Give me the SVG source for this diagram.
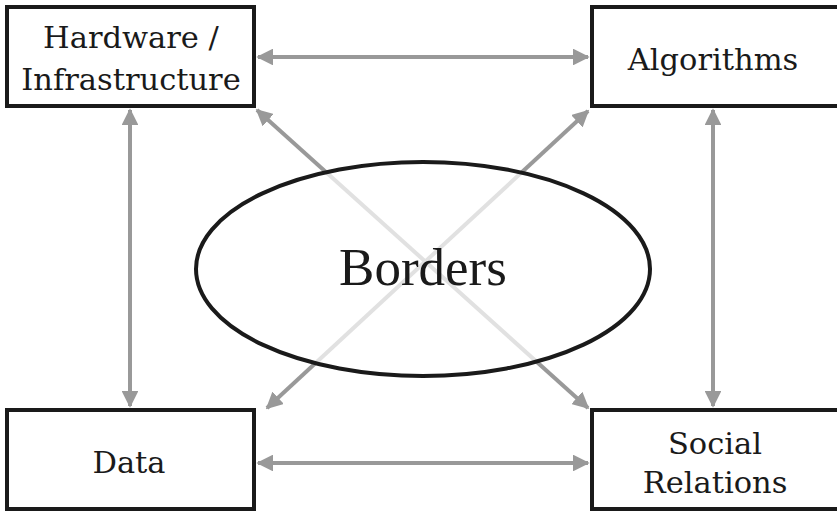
<svg xmlns="http://www.w3.org/2000/svg" width="837" height="512" viewBox="0 0 837 512">
<defs>
<marker id="ah" viewBox="0 0 10 10" refX="9" refY="5" markerWidth="4.2" markerHeight="4.2" orient="auto-start-reverse" markerUnits="strokeWidth">
<path d="M0,0 L10,5 L0,10 Z" fill="#999"/>
</marker>
<style>
.box{fill:#fff;stroke:#1a1a1a;stroke-width:4}
.lbl{font-family:"DejaVu Serif","Liberation Serif",serif;font-size:30.5px;fill:#1a1a1a;text-anchor:middle}
.con{stroke:#999;stroke-width:4;fill:none;marker-start:url(#ah);marker-end:url(#ah)}
</style>
</defs>
<rect width="837" height="512" fill="#fff"/>
<g id="connectors">
<line class="con" x1="258" y1="57" x2="588" y2="57"/>
<line class="con" x1="258" y1="463" x2="588" y2="463"/>
<line class="con" x1="130" y1="110" x2="130" y2="406"/>
<line class="con" x1="713" y1="110" x2="713" y2="406"/>
<line class="con" x1="257" y1="110" x2="588" y2="408"/>
<line class="con" x1="588" y1="111" x2="267" y2="408"/>
</g>
<g id="borders">
<ellipse cx="423" cy="269" rx="227" ry="107" fill="#fff" fill-opacity="0.7" stroke="#1a1a1a" stroke-width="4"/>
<text x="423" y="285" font-family="Liberation Serif, DejaVu Serif, serif" font-size="53" fill="#1a1a1a" text-anchor="middle">Borders</text>
</g>
<g id="hardware">
<rect class="box" x="7" y="7" width="247" height="99"/>
<text class="lbl" x="131" y="48">Hardware /</text>
<text class="lbl" x="131" y="90">Infrastructure</text>
</g>
<g id="algorithms">
<rect class="box" x="592" y="7" width="250" height="99"/>
<text class="lbl" x="713" y="70">Algorithms</text>
</g>
<g id="data">
<rect class="box" x="7" y="410" width="247" height="99"/>
<text class="lbl" x="129" y="473">Data</text>
</g>
<g id="social">
<rect class="box" x="592" y="410" width="250" height="99"/>
<text class="lbl" x="715" y="454">Social</text>
<text class="lbl" x="715" y="493">Relations</text>
</g>
</svg>
